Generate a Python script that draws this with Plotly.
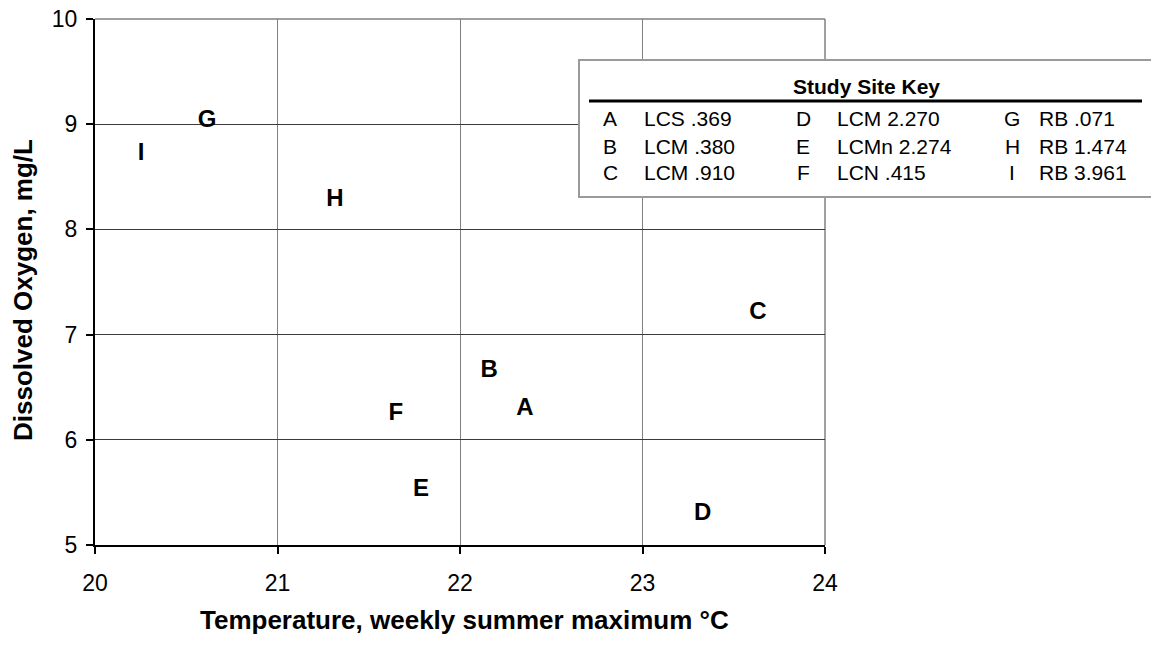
import plotly.graph_objects as go

# site positions
site_codes = ["A", "B", "C", "D", "E", "F", "G", "H", "I"]
site_names = ["LCS .369", "LCM .380", "LCM .910", "LCM 2.270", "LCMn 2.274",
              "LCN .415", "RB .071", "RB 1.474", "RB 3.961"]
temperature = [22.356, 22.16, 23.633, 23.33, 21.786, 21.649, 20.614, 21.315, 20.252]
dissolved_oxygen = [6.293, 6.654, 7.205, 5.295, 5.523, 6.245, 9.03, 8.28, 8.717]

x_ticks = [20, 21, 22, 23, 24]
y_ticks = [5, 6, 7, 8, 9, 10]

FONT = "Arial, Liberation Sans, sans-serif"

# plot area in page pixels (used to place the key box and titles outside the axes)
L, R, T, B = 95, 825, 19, 545
PAGE_W, PAGE_H = 1159, 646
OFF = 8  # default body margin of the html page
W, H = PAGE_W - OFF, PAGE_H - OFF


def px(x):
    return (x - L) / (R - L)


def py(y):
    return (B - y) / (B - T)


fig = go.Figure()
fig.add_trace(go.Scatter(
    x=temperature, y=dissolved_oxygen, mode="text", text=[f"<b>{c}</b>" for c in site_codes],
    textposition="middle center", textfont=dict(family=FONT, size=24, color="black"),
    showlegend=False, hoverinfo="skip", cliponaxis=False))

# Study Site Key box
fig.add_shape(type="rect", xref="paper", yref="paper", x0=px(579), x1=px(1152), y0=py(197), y1=py(60),
              line=dict(color="#9a9a9a", width=2), fillcolor="white", layer="above")
fig.add_shape(type="line", xref="paper", yref="paper", x0=px(589), x1=px(1142), y0=py(101), y1=py(101),
              line=dict(color="black", width=3), layer="above")
fig.add_annotation(xref="paper", yref="paper", x=px(866), y=py(86), text="<b>Study Site Key</b>",
                   showarrow=False, xanchor="center", yanchor="middle", font=dict(family=FONT, size=21, color="black"))

col_letter_x = [610, 803, 1012]
col_name_x = [642, 835, 1037]
row_y = [118, 146, 173]
for i, (code, name) in enumerate(zip(site_codes, site_names)):
    c, r = divmod(i, 3)
    fig.add_annotation(xref="paper", yref="paper", x=px(col_letter_x[c]), y=py(row_y[r]), text=code,
                       showarrow=False, xanchor="center", yanchor="middle", font=dict(family=FONT, size=21, color="black"))
    fig.add_annotation(xref="paper", yref="paper", x=px(col_name_x[c]), y=py(row_y[r]), text=name,
                       showarrow=False, xanchor="left", yanchor="middle", font=dict(family=FONT, size=21, color="black"))

# axis titles
fig.add_annotation(xref="paper", yref="paper", x=px(464), y=py(620), text="<b>Temperature, weekly summer maximum °C</b>",
                   showarrow=False, xanchor="center", yanchor="middle", font=dict(family=FONT, size=26, color="black"))
fig.add_annotation(xref="paper", yref="paper", x=px(23), y=py(290), text="<b>Dissolved Oxygen, mg/L</b>", textangle=-90,
                   showarrow=False, xanchor="center", yanchor="middle", font=dict(family=FONT, size=26, color="black"))

fig.update_layout(
    width=W, height=H, autosize=False,
    margin=dict(l=L - OFF, r=W - (R - OFF), t=T - OFF, b=H - (B - OFF), autoexpand=False),
    plot_bgcolor="white", paper_bgcolor="white",
    font=dict(family=FONT, color="black"),
    xaxis=dict(
        range=[20, 24], tickvals=x_ticks, automargin=False, ticklabeloverflow="allow",
        showgrid=True, gridcolor="#808080", gridwidth=1,
        showline=True, linecolor="black", linewidth=2, zeroline=False,
        ticks="outside", ticklen=7, tickwidth=1.5, tickcolor="black",
        tickfont=dict(family=FONT, size=23), ticklabelstandoff=9,
    ),
    yaxis=dict(
        range=[5, 10], tickvals=y_ticks, automargin=False, ticklabeloverflow="allow",
        showgrid=True, gridcolor="#3a3a3a", gridwidth=1,
        showline=True, linecolor="black", linewidth=2, zeroline=False,
        ticks="outside", ticklen=7, tickwidth=1.5, tickcolor="black",
        tickfont=dict(family=FONT, size=23), ticklabelstandoff=4,
    ),
)

# top and right edges of the grid (gridlines at the range ends)
fig.add_shape(type="line", xref="paper", yref="paper", x0=0, x1=1, y0=1, y1=1,
              line=dict(color="#808080", width=1.5), layer="below")
fig.add_shape(type="line", xref="paper", yref="paper", x0=1, x1=1, y0=0, y1=1,
              line=dict(color="#808080", width=1.5), layer="below")

fig.write_html("out.html")
